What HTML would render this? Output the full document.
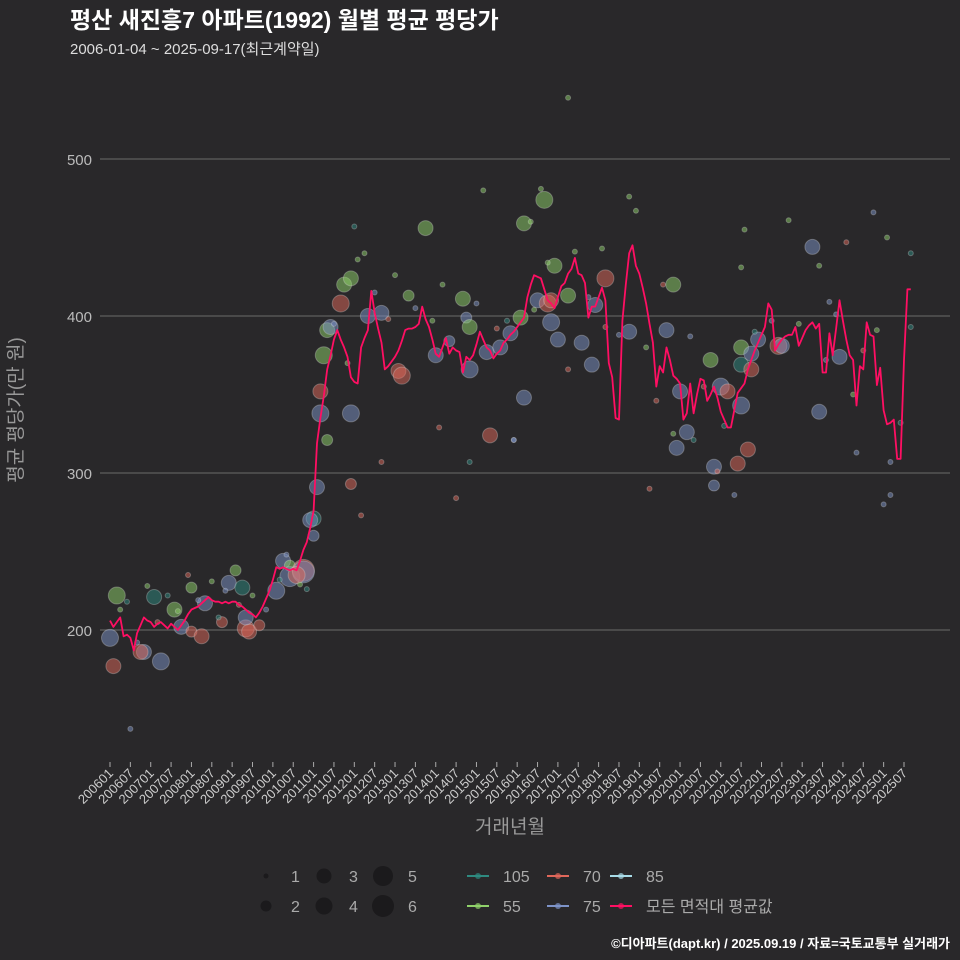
<!DOCTYPE html>
<html><head><meta charset="utf-8">
<style>
html,body{margin:0;padding:0;background:#29282a;}
svg{display:block;font-family:"Liberation Sans","Noto Sans CJK KR",sans-serif;}
</style></head>
<body>
<svg id="chart" width="960" height="960" viewBox="0 0 960 960" xmlns="http://www.w3.org/2000/svg">
<rect width="960" height="960" fill="#29282a"/>
<text x="70" y="28" fill="#ffffff" font-size="23" font-weight="bold">평산 새진흥7 아파트(1992) 월별 평균 평당가</text>
<text x="70" y="54" fill="#dddddd" font-size="15">2006-01-04 ~ 2025-09-17(최근계약일)</text>
<g id="grid"></g>
<g id="yticks"></g>
<text transform="translate(22,410) rotate(-90)" text-anchor="middle" fill="#999" font-size="19">평균 평당가(만 원)</text>
<g id="xticks"></g>
<text x="510" y="833" text-anchor="middle" fill="#999" font-size="19">거래년월</text>
<g id="bubbles"></g>
<g id="line"></g>
<g id="legend"></g>
<text x="950" y="948" text-anchor="end" fill="#ffffff" font-size="13" font-weight="bold">©디아파트(dapt.kr) / 2025.09.19 / 자료=국토교통부 실거래가</text>
</svg>
<script>
const yTicks = [200, 300, 400, 500];
const xTickLabels = [];
for (let y = 2006; y <= 2025; y++) { xTickLabels.push(y + "01"); xTickLabels.push(y + "07"); }
const avgValues = [
206,202,205,208,196,197,195,187,198,203,208,206,
205,202,204,205,203,201,204,202,200,203,206,210,
213,214,215,217,219,221,219,218,218,217,218,217,
218,218,216,215,213,211,210,208,211,215,220,225,
232,240,239,240,239,238,239,238,244,251,256,265,
276,319,335,349,366,375,385,391,385,380,374,361,
358,357,380,386,391,416,402,392,383,366,368,371,
374,378,384,391,392,392,393,395,406,398,393,385,
376,374,380,386,376,380,378,377,364,374,372,375,
382,390,385,380,378,373,376,378,383,385,388,390,
393,396,399,412,420,426,425,424,417,410,408,405,
412,419,421,427,430,437,427,426,421,399,406,406,
412,418,410,370,361,335,334,397,420,440,445,432,
427,418,408,395,383,355,368,364,380,372,362,360,
357,334,338,357,338,350,360,359,346,350,355,348,
339,334,329,329,340,351,354,357,366,372,378,383,
388,393,408,404,378,382,385,387,388,388,393,381,
386,391,394,396,392,395,364,364,389,375,392,410,
397,385,375,372,343,368,366,396,388,387,356,367,
340,331,332,334,309,309,372,417,417];
const bubbleMonth = [0,2,1,10,9,15,13,19,21,24,24,28,27,33,35,37,39,40,41,40,44,49,51,53,53,57,57,55,60,60,59,61,64,62,62,63,64,65,68,69,71,71,71,76,80,85,86,88,93,96,100,104,105,106,106,111,112,115,118,121,122,122,126,128,129,130,130,131,132,135,139,142,143,146,153,166,164,168,167,170,177,178,178,180,182,186,186,185,188,186,189,189,191,197,198,207,209,215,
6,72,73,75,84,106,102,97,80,74,119,145,153,155,187,186,200,209,217,225,229,236,236,228,230,230,220,219,226,212,181,184,179,159,146,161,166,172,135,119,135,127,110,124,129,
3,5,8,11,14,17,20,23,26,30,32,34,38,42,46,50,52,56,58,66,70,78,82,90,95,98,108,114,117,125,137,141,150,158,163,171,175,190,195,203,211,214,222,233];
const bubbleValue = [195,222,177,186,186,180,221,213,202,199,227,217,196,205,230,238,227,201,199,208,203,225,244,241,234,238,237,235,260,271,270,291,321,338,352,375,391,393,408,420,424,293,338,400,402,365,362,413,456,375,384,411,399,393,366,377,324,380,389,399,348,459,410,474,408,410,396,432,385,413,383,369,407,424,390,420,391,352,316,326,372,304,292,355,352,343,380,306,315,369,366,376,385,381,381,444,339,374,
137,457,436,440,426,307,284,329,307,273,321,443,476,467,455,431,461,432,447,466,450,440,393,280,286,307,313,350,391,409,330,286,301,290,393,346,325,321,366,321,539,481,480,460,434,
213,218,192,228,205,222,212,235,219,231,208,225,216,222,213,232,248,229,226,395,370,415,398,405,397,420,408,392,397,404,441,412,388,380,420,387,355,390,397,395,372,401,378,332];
const bubbleCount = [4,4,3,3,3,4,3,3,3,2,2,3,3,2,3,2,3,4,3,3,2,4,3,2,5,6,6,4,2,3,3,3,2,4,3,4,3,3,4,3,3,2,4,3,3,3,4,2,3,3,2,3,2,3,4,3,3,3,3,3,3,3,3,4,4,3,4,3,3,3,3,3,3,4,3,3,3,3,3,3,3,3,2,4,3,4,3,3,3,3,3,3,3,4,3,3,3,3,
1,1,1,1,1,1,1,1,1,1,1,1,1,1,1,1,1,1,1,1,1,1,1,1,1,1,1,1,1,1,1,1,1,1,1,1,1,1,1,1,1,1,1,1,1,
1,1,1,1,1,1,1,1,1,1,1,1,1,1,1,1,1,1,1,1,1,1,1,1,1,1,1,1,1,1,1,1,1,1,1,1,1,1,1,1,1,1,1,1];
const bubbleArea = ["75","55","70","75","70","75","105","55","75","70","55","75","70","70","75","55","105","70","70","75","70","75","75","55","75","70","75","70","75","105","75","75","55","75","70","55","55","75","70","55","55","70","75","75","75","70","70","55","55","75","75","55","75","55","75","75","70","75","75","55","75","55","75","55","70","70","75","55","75","55","75","75","75","70","75","55","75","75","75","75","55","75","75","75","70","75","55","70","70","105","70","75","75","70","75","75","75","75",
"75","105","55","55","55","105","70","70","70","70","75","55","55","55","55","55","55","55","70","75","55","105","105","75","75","75","75","55","55","75","105","75","70","70","70","70","55","105","70","75","55","55","55","55","55",
"55","105","75","55","70","105","55","70","75","55","105","75","70","55","75","105","75","55","105","75","55","75","70","75","55","55","75","70","105","55","55","75","75","55","70","75","70","105","75","55","75","75","70","105"];
const areaFill = {"105":"#2e8a80","55":"#8fd16a","70":"#e0675a","75":"#7d93c8","85":"#a8dce8"};
const sizeR = [0, 2.5, 5.5, 7.5, 8.5, 10, 11];

const X0 = 110, MW = (904 - 110) / 234;
function xScale(m) { return X0 + m * MW; }
function yScale(v) { return 630 - (v - 200) * 1.57; }
const NS = "http://www.w3.org/2000/svg";
function mk(tag, attrs, parent) {
  const e = document.createElementNS(NS, tag);
  for (const k in attrs) e.setAttribute(k, attrs[k]);
  parent.appendChild(e); return e;
}
const grid = document.getElementById('grid');
const yt = document.getElementById('yticks');
yTicks.forEach(v => {
  const l = mk('line', {x1: 100, x2: 950, y1: yScale(v), y2: yScale(v), stroke: '#6b6b6b', 'stroke-width': 1}, grid);
  
  
  const t = mk('text', {x: 92, y: yScale(v) + 6, 'text-anchor': 'end', fill: '#bbbbbb', 'font-size': 15}, yt);
  t.textContent = v;
  
  
});
const xt = document.getElementById('xticks');
xTickLabels.forEach((lab, i) => {
  const x = xScale(i * 6);
  const tk = mk('line', {x1: x, x2: x, y1: 762, y2: 767, stroke: '#aaaaaa', 'stroke-width': 1}, xt);
  
  
  const t = mk('text', {transform: `translate(${x + 4},${774}) rotate(-45)`, 'text-anchor': 'end', fill: '#cccccc', 'font-size': 13}, xt);
  t.textContent = lab;
  
  
});
const bg = document.getElementById('bubbles');
bubbleMonth.forEach((m, i) => {
  const col = areaFill[bubbleArea[i]];
  const c = mk('circle', {cx: xScale(m), cy: yScale(bubbleValue[i]), r: sizeR[bubbleCount[i]], fill: col, 'fill-opacity': 0.5, stroke: '#dddddd', 'stroke-opacity': 0.3, 'stroke-width': 1}, bg);
  
  
});
const lg = document.getElementById('line');
const pts = avgValues.map((v, i) => xScale(i).toFixed(1) + ',' + yScale(v).toFixed(1)).join(' ');
const pl = mk('polyline', {points: pts, fill: 'none', stroke: '#ff0f63', 'stroke-width': 1.8, 'stroke-linejoin': 'round'}, lg);



const leg = document.getElementById('legend');
const sizeItems = [[1,266,876],[2,266,906],[3,324,876],[4,324,906],[5,383,876],[6,383,906]];
sizeItems.forEach(s => {
  const c = mk('circle', {cx: s[1], cy: s[2], r: sizeR[s[0]], fill: '#1b1a1c'}, leg);
  
  
  const t = mk('text', {x: s[1] + 25, y: s[2] + 6, fill: '#aaaaaa', 'font-size': 16}, leg);
  t.textContent = s[0];
  
  
});
const lineItems = [["105",'#2e8a80',467,876],["70",'#e0675a',547,876],["85",'#a8dce8',610,876],["55",'#8fd16a',467,906],["75",'#7d93c8',547,906],["모든 면적대 평균값",'#ff0f63',610,906]];
lineItems.forEach(it => {
  const g = mk('g', {}, leg);
  
  
  mk('line', {x1: it[2], x2: it[2] + 22, y1: it[3], y2: it[3], stroke: it[1], 'stroke-width': 2}, g);
  mk('circle', {cx: it[2] + 11, cy: it[3], r: 3, fill: it[1], 'fill-opacity': 0.7}, g);
  const t = mk('text', {x: it[2] + 36, y: it[3] + 6, fill: '#aaaaaa', 'font-size': 16}, g);
  t.textContent = it[0];
});
</script>
</body></html>
